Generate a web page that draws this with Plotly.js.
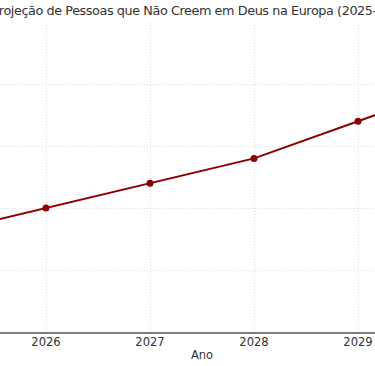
<!DOCTYPE html>
<html><head><meta charset="utf-8">
<script src="https://cdn.plot.ly/plotly-3.0.1.min.js"></script>
<style>html,body{margin:0;padding:0;overflow:hidden;width:375px;height:366px;background:#fff}
#chart{position:absolute;left:-84px;top:0;width:572px;height:366px}
#chart .gtitle{letter-spacing:-0.42px}</style>
</head><body><div id="chart"></div>
<script>
const years = [2025, 2026, 2027, 2028, 2029, 2030];
const values = [30.6, 31.0, 31.4, 31.8, 32.4, 33.0];
const titleText = 'Projeção de Pessoas que Não Creem em Deus na Europa (2025-2030)';
const xTitle = 'Ano';
const yTitle = 'Pessoas (milhões)';

Plotly.newPlot('chart', [{
  x: years, y: values, type: 'scatter', mode: 'lines+markers',
  line: {color: '#8B0000', width: 2},
  marker: {color: '#8B0000', size: 7}
}], {
  width: 572, height: 366,
  margin: {l: 0, r: 0, t: 22, b: 34},
  paper_bgcolor: '#fff', plot_bgcolor: '#fff',
  font: {family: 'DejaVu Sans', color: '#333'},
  title: {text: titleText, font: {size: 12.8, color: '#333'}, x: 0.5, xref: 'paper', y: 0.983, yanchor: 'top'},
  xaxis: {range: [2024.75, 2030.25], tickvals: years, ticks: '', tickfont: {size: 11.5, color: '#333'},
    ticklabelstandoff: -2,
    showgrid: true, gridcolor: '#dcdcdc', griddash: '1px,2px', gridwidth: 1,
    showline: true, linecolor: '#808080', linewidth: 2, zeroline: false,
    title: {text: xTitle, font: {size: 11.5, color: '#333'}, standoff: 3}, automargin: false},
  yaxis: {range: [29, 34], dtick: 1, showgrid: true, gridcolor: '#dcdcdc', griddash: '1px,2px', gridwidth: 1,
    zeroline: false, showline: false, showticklabels: false, title: {text: yTitle}, automargin: false},
  showlegend: false
}, {displayModeBar: false, staticPlot: true});
</script></body></html>
